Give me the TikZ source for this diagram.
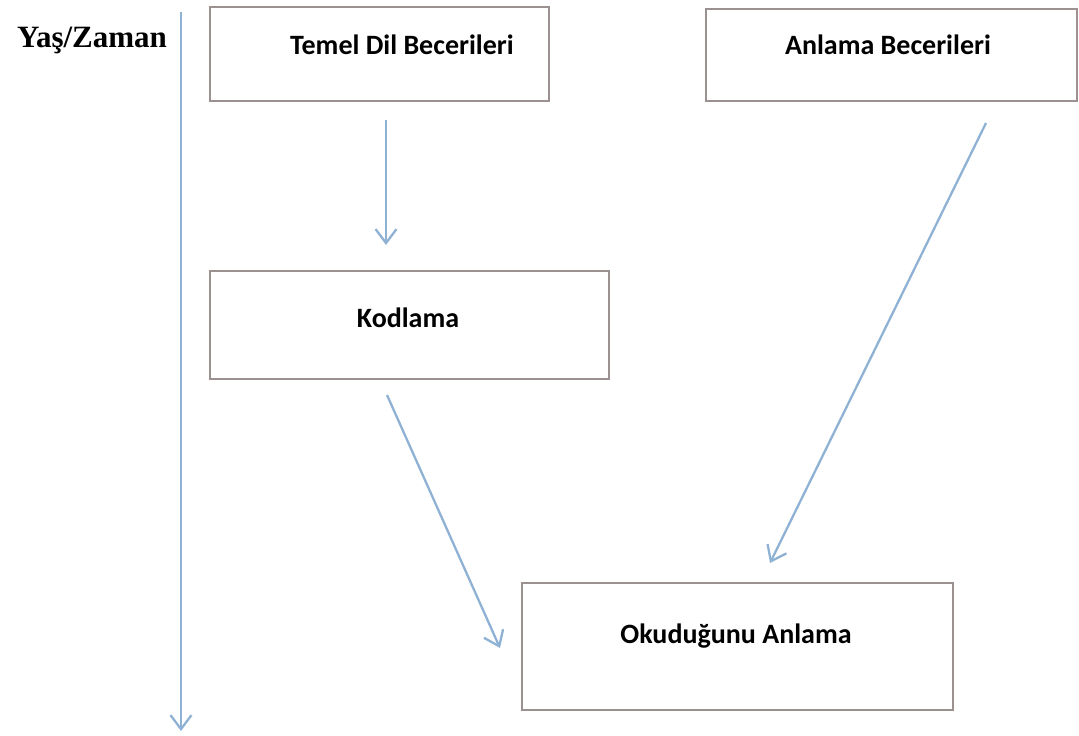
\documentclass[tikz,border=0pt]{standalone}
\usepackage{fontspec}
\setmainfont{Carlito}
\newfontfamily\timesf{Liberation Serif}
\usetikzlibrary{arrows.meta}
\definecolor{arrowblue}{RGB}{143,178,212}
\definecolor{boxgray}{RGB}{155,145,145}
\tikzset{
  x=1pt, y=-1pt,
  box/.style={draw=boxgray, line width=2pt, fill=white},
  lbl/.style={font=\fontsize{28}{33}\selectfont\bfseries, anchor=center},
  conn/.style={draw=arrowblue, line width=2.3pt, -{Straight Barb[length=14pt,width=21pt,line width=2.3pt]}}
}
\begin{document}
\begin{tikzpicture}
\useasboundingbox (0,0) rectangle (1079,736);
% boxes
\node[box, minimum width=339pt, minimum height=94pt, anchor=north west] (temel) at (209,6) {};
\node[box, minimum width=371pt, minimum height=92pt, anchor=north west] (anlama) at (705,8) {};
\node[box, minimum width=399pt, minimum height=108pt, anchor=north west] (kod) at (209,270) {};
\node[box, minimum width=431pt, minimum height=127pt, anchor=north west] (oku) at (521,582) {};
% labels
\node[lbl] (temelt) at (402,45) {Temel Dil Becerileri};
\node[lbl] (anlamat) at (888,45) {Anlama Becerileri};
\node[lbl] (kodt) at (408,318) {Kodlama};
\node[lbl] (okut) at (736,636) {Okuduğunu Anlama};
\node[font=\fontsize{31}{35}\selectfont\timesf\bfseries] (yas) at (92,40) {Yaş/Zaman};
% coordinates
\coordinate (axs) at (181,12);
\coordinate (axe) at (181,731);
\coordinate (a1s) at (386,120);
\coordinate (a1e) at (386,245);
\coordinate (a2s) at (986,123);
\coordinate (a2e) at (770,563);
\coordinate (a3s) at (387,395);
\coordinate (a3e) at (500,648);
% connectors
\draw[conn] (axs) -- (axe);
\draw[conn] (a1s) -- (a1e);
\draw[conn] (a2s) -- (a2e);
\draw[conn] (a3s) -- (a3e);
\end{tikzpicture}
\end{document}
